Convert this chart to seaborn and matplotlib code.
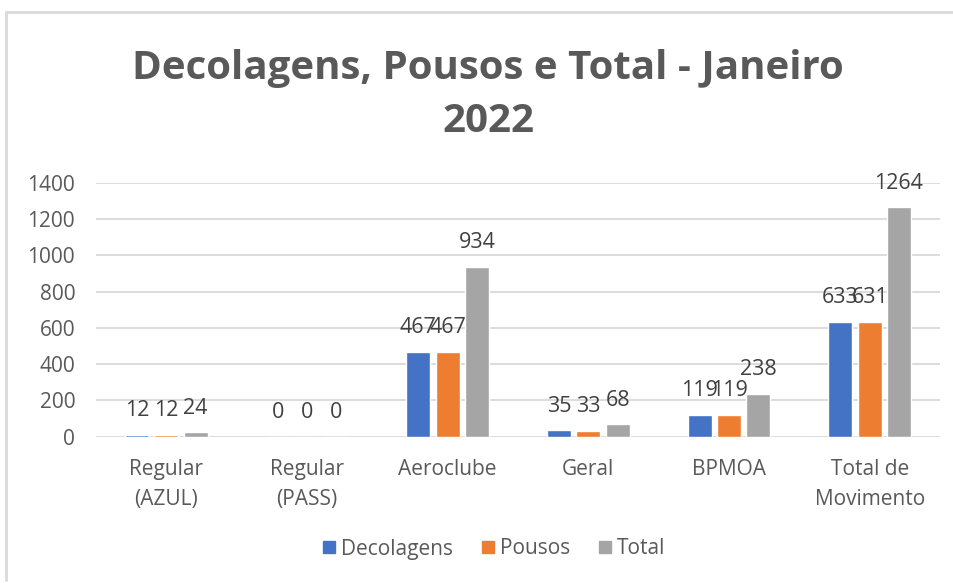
import matplotlib
matplotlib.use("Agg")
import matplotlib.pyplot as plt
import seaborn as sns
import pandas as pd
from matplotlib.lines import Line2D

categories = ["Regular\n(AZUL)", "Regular\n(PASS)", "Aeroclube", "Geral", "BPMOA", "Total de\nMovimento"]
decolagens = [12, 0, 467, 35, 119, 633]
pousos = [12, 0, 467, 33, 119, 631]
total = [24, 0, 934, 68, 238, 1264]
series_names = ["Decolagens", "Pousos", "Total"]
colors = ["#4472C4", "#ED7D31", "#A5A5A5"]
yticks = [0, 200, 400, 600, 800, 1000, 1200, 1400]
title = "Decolagens, Pousos e Total - Janeiro\n2022"

rows = []
for name, vals in zip(series_names, [decolagens, pousos, total]):
    for c, v in zip(categories, vals):
        rows.append({"cat": c, "serie": name, "valor": v})
df = pd.DataFrame(rows)

sns.set_theme(style="white")
plt.rcParams["font.family"] = ["Open Sans", "DejaVu Sans"]

fig = plt.figure(figsize=(9.54, 5.83), dpi=100)
ax = fig.add_axes([96 / 954, 1 - 436.7 / 583, (940 - 96) / 954, (436.7 - 182.7) / 583])

sns.barplot(data=df, x="cat", y="valor", hue="serie", order=categories,
            hue_order=series_names, palette=colors, width=0.625, gap=0.18,
            ax=ax, legend=False, saturation=1, errorbar=None)

ax.set_ylim(0, 1400)
ax.set_xlim(-0.5, len(categories) - 0.5)
ax.set_yticks(yticks)
ax.set_yticklabels([str(t) for t in yticks])
ax.yaxis.grid(True, color="#d9d9d9", linewidth=1.3)
ax.set_axisbelow(True)
for s in ax.spines.values():
    s.set_visible(False)
ax.set_xlabel("")
ax.set_ylabel("")
ax.tick_params(axis="y", length=0, pad=15, labelsize=15, labelcolor="#595959")
ax.tick_params(axis="x", length=0, pad=16, labelsize=15, labelcolor="#595959")
for lbl in ax.get_xticklabels():
    lbl.set_linespacing(1.55)
    lbl.set_verticalalignment("top")

for cont in ax.containers:
    for bar in cont:
        h = bar.get_height()
        ax.annotate(f"{int(round(h))}", (bar.get_x() + bar.get_width() / 2, h),
                    xytext=(0, 17.5), textcoords="offset points",
                    ha="center", va="center", fontsize=15.5, color="#404040")

fig.text(488 / 954, 1 - 95 / 583, title, ha="center", va="center",
         fontsize=29, fontweight="bold", color="#595959", linespacing=1.45)

handles = [Line2D([0], [0], marker="s", linestyle="", markersize=8,
                  markerfacecolor=c, markeredgecolor=c) for c in colors]
fig.legend(handles, series_names, loc="center", bbox_to_anchor=(492 / 954, 1 - 549 / 583),
           ncol=3, frameon=False, fontsize=15, handletextpad=0.05, columnspacing=1.2,
           handlelength=1.0, labelcolor="#595959")

fig.add_artist(Line2D([6 / 954, 1], [1 - 12 / 583, 1 - 12 / 583], color="#d9d9d9", linewidth=2))
fig.add_artist(Line2D([6 / 954, 6 / 954], [1 - 12 / 583, 1 - 580 / 583], color="#d9d9d9", linewidth=2))

fig.savefig("out.png", dpi=100)
